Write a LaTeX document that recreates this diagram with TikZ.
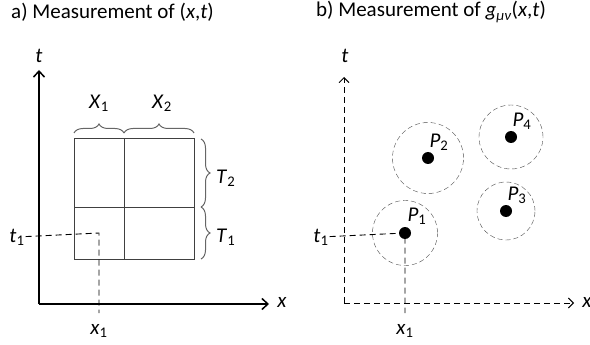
\documentclass[tikz,border=0pt]{standalone}
\usepackage{fontspec}
\setmainfont{Carlito}
\usetikzlibrary{arrows.meta,decorations.pathreplacing}
\tikzset{
  lbl/.style={font=\fontsize{21}{23}\selectfont, inner sep=1pt},
  dot/.style={circle, fill=black, inner sep=0pt, minimum size=12pt},
  region/.style={circle, draw=black!70, dash pattern=on 5pt off 3pt, inner sep=0pt},
  guide/.style={dash pattern=on 6pt off 4pt, line width=0.9pt},
  brc/.style={decorate, decoration={brace, amplitude=9pt}, draw=black!60, line width=1pt},
  cell/.style={draw=black!75, line width=1pt},
}
\begin{document}
\begin{tikzpicture}[x=1pt,y=-1pt]
   \useasboundingbox (0,0) rectangle (590,345);

   % a) measurement of (x,t)
   \node[lbl, anchor=west] (titA) at (10,12) {a) Measurement of (\textit{x},\textit{t})};
   \coordinate (oA) at (39,304);
   \coordinate (tA) at (39,70);
   \coordinate (xA) at (269,304);
   \draw[line width=1.5pt, -{Straight Barb[length=6pt,width=11pt]}] (oA) -- (tA);
   \draw[line width=1.5pt, -{Straight Barb[length=6pt,width=11pt]}] (oA) -- (xA);
   \node[lbl] (tlabA) at (39,56) {\textit{t}};
   \node[lbl] (xlabA) at (282,302) {\textit{x}};

   \draw[cell] (74,139) rectangle (194,259);
   \draw[cell] (124,139) -- (124,259);
   \draw[cell] (74,207) -- (194,207);

   \draw[brc] (74,133) -- (124,133);
   \draw[brc] (124,133) -- (194,133);
   \node[lbl] (X1) at (99,103) {\textit{X}\textsubscript{1}};
   \node[lbl] (X2) at (162,103) {\textit{X}\textsubscript{2}};
   \draw[brc] (201,139) -- (201,207);
   \draw[brc] (201,207) -- (201,259);
   \node[lbl, anchor=west] (T2) at (215,178) {\textit{T}\textsubscript{2}};
   \node[lbl, anchor=west] (T1) at (215,237) {\textit{T}\textsubscript{1}};

   \coordinate (mA) at (99,233);
   \node[lbl] (t1A) at (17,237) {\textit{t}\textsubscript{1}};
   \node[lbl] (x1A) at (99,331) {\textit{x}\textsubscript{1}};
   \draw[guide] (t1A) -- (mA) -- (99,313);

   % b) measurement of g(x,t)
   \node[lbl, anchor=west] (titB) at (315,12) {b) Measurement of \textit{g}\textsubscript{\textit{μν}}(\textit{x},\textit{t})};
   \coordinate (oB) at (344,303);
   \coordinate (tB) at (344,77);
   \coordinate (xB) at (574,303);
   \draw[guide, -{Straight Barb[length=5pt,width=10pt]}] (oB) -- (tB);
   \draw[guide, -{Straight Barb[length=5pt,width=10pt]}] (oB) -- (xB);
   \node[lbl] (tlabB) at (345,56) {\textit{t}};
   \node[lbl] (xlabB) at (587,302) {\textit{x}};

   \node[region, minimum size=65pt] (c1) at (405,233) {};
   \node[region, minimum size=71pt] (c2) at (428,158) {};
   \node[region, minimum size=58pt] (c3) at (506,211) {};
   \node[region, minimum size=64pt] (c4) at (511,137) {};
   \node[dot] (p1) at (405,233) {};
   \node[dot] (p2) at (428,158) {};
   \node[dot] (p3) at (506,211) {};
   \node[dot] (p4) at (511,137) {};
   \node[lbl] at (417,216) {\textit{P}\textsubscript{1}};
   \node[lbl] at (439,142) {\textit{P}\textsubscript{2}};
   \node[lbl] at (517,195) {\textit{P}\textsubscript{3}};
   \node[lbl] at (522,121) {\textit{P}\textsubscript{4}};

   \node[lbl] (t1B) at (321,237) {\textit{t}\textsubscript{1}};
   \node[lbl] (x1B) at (405,331) {\textit{x}\textsubscript{1}};
   \draw[guide] (t1B) -- (p1.center) -- (405,313);
\end{tikzpicture}
\end{document}
